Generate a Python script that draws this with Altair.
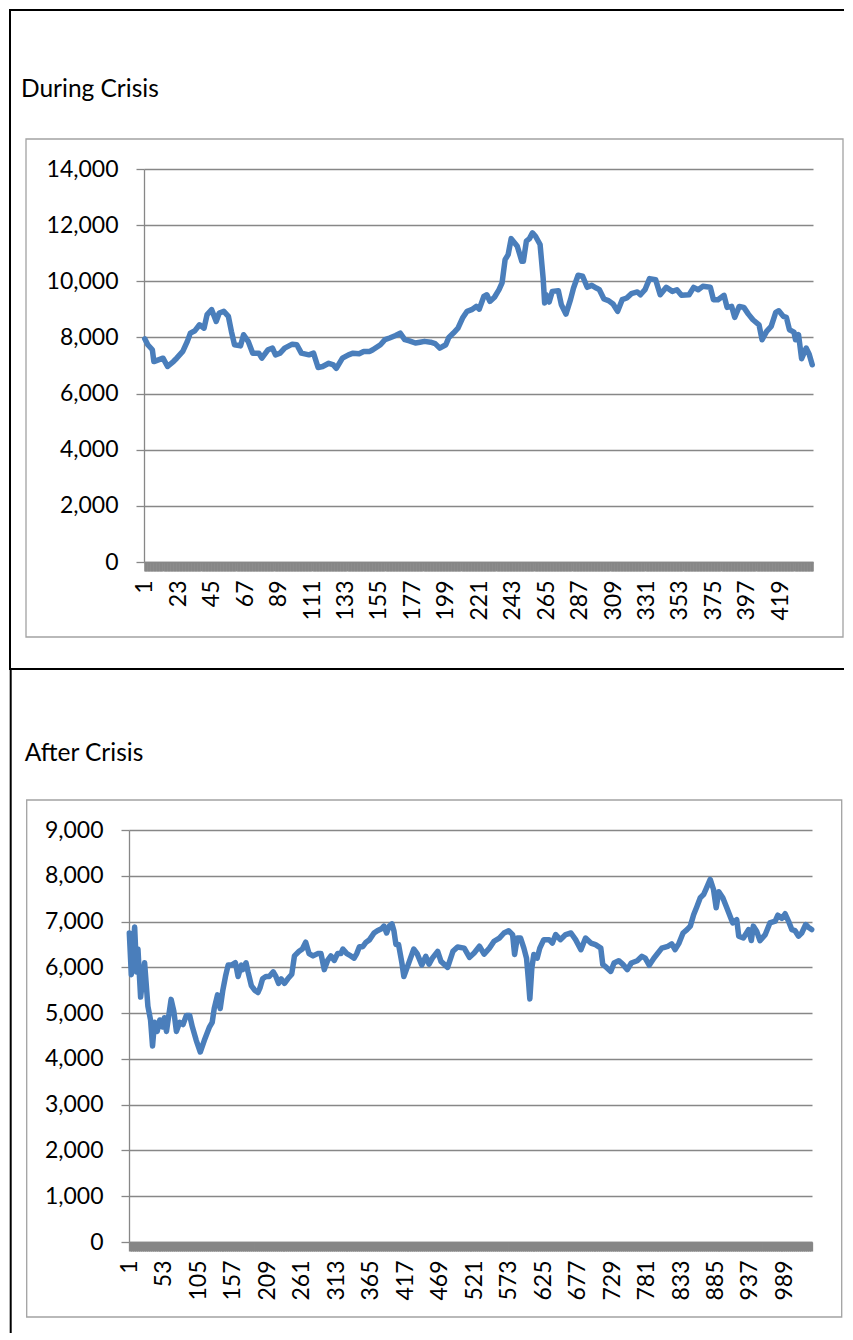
import altair as alt
import pandas as pd

# ---------------- data ----------------
DURING_N = 440
during_idx = [1, 3, 6, 7, 10, 13, 16, 20, 22, 26, 29, 31, 34, 37, 40, 42, 45, 48, 50, 53,
              56, 58, 60, 64, 66, 69, 72, 76, 78, 82, 85, 87, 90, 93, 98, 101, 104, 109, 112, 115,
              118, 122, 125, 127, 131, 135, 138, 142, 145, 149, 151, 156, 159, 162, 166, 169, 172, 175, 179, 182,
              185, 189, 192, 195, 199, 201, 204, 207, 210, 213, 216, 219, 221, 224, 226, 228, 231, 234, 236, 238,
              240, 242, 246, 249, 250, 252, 254, 256, 258, 261, 263, 264, 265, 267, 269, 273, 275, 278, 281, 283,
              286, 289, 292, 295, 298, 300, 303, 306, 309, 312, 315, 318, 321, 325, 327, 330, 333, 337, 340, 344,
              348, 351, 354, 359, 362, 365, 368, 373, 375, 378, 382, 384, 387, 389, 392, 395, 398, 401, 405, 407,
              410, 413, 416, 418, 421, 423, 425, 428, 429, 431, 433, 436, 438, 440]
during_val = [7950, 7740, 7560, 7140, 7200, 7260, 6965, 7150, 7260, 7500, 7860, 8155, 8240, 8450, 8330, 8810, 8990, 8570, 8870, 8930,
              8750, 8210, 7740, 7700, 8095, 7860, 7440, 7440, 7260, 7560, 7620, 7380, 7440, 7620, 7760, 7740, 7440, 7380, 7440, 6930,
              6965, 7080, 7020, 6900, 7260, 7380, 7440, 7420, 7500, 7500, 7560, 7740, 7920, 7980, 8070, 8155, 7920, 7880, 7800, 7830,
              7860, 7830, 7780, 7620, 7740, 8000, 8155, 8330, 8690, 8930, 8990, 9105, 9010, 9460, 9520, 9285, 9430, 9700, 9940, 10770,
              10950, 11520, 11250, 10710, 10710, 11430, 11520, 11725, 11605, 11310, 10120, 9225, 9520, 9260, 9640, 9665, 9165, 8830, 9345, 9760,
              10215, 10180, 9785, 9855, 9760, 9700, 9370, 9310, 9190, 8930, 9345, 9405, 9560, 9620, 9520, 9700, 10095, 10060, 9520, 9785,
              9640, 9700, 9500, 9520, 9785, 9700, 9820, 9785, 9345, 9345, 9500, 9070, 9105, 8715, 9105, 9070, 8830, 8630, 8450, 7915,
              8215, 8395, 8890, 8950, 8750, 8715, 8275, 8190, 7915, 8095, 7240, 7620, 7405, 7025]
during_labels = [1, 23, 45, 67, 89, 111, 133, 155, 177, 199, 221, 243, 265, 287, 309, 331, 353, 375, 397, 419]
during_yticks = [0, 2000, 4000, 6000, 8000, 10000, 12000, 14000]

AFTER_N = 1030
after_idx = [1, 4, 9, 12, 14, 18, 24, 29, 33, 36, 39, 43, 47, 51, 54, 57, 61, 64, 68, 72,
             77, 82, 87, 92, 96, 102, 108, 114, 122, 126, 129, 134, 138, 142, 146, 150, 155, 161, 165, 170,
             172, 177, 180, 185, 190, 195, 198, 202, 207, 212, 218, 222, 226, 230, 235, 240, 246, 250, 257, 262,
             267, 272, 278, 285, 290, 295, 300, 305, 310, 315, 320, 323, 329, 335, 340, 344, 348, 353, 358, 363,
             370, 375, 382, 385, 389, 393, 397, 400, 403, 407, 412, 415, 420, 425, 430, 435, 442, 448, 453, 458,
             466, 471, 481, 489, 496, 506, 514, 521, 529, 536, 544, 551, 559, 566, 573, 579, 582, 586, 591, 596,
             600, 603, 605, 608, 611, 616, 620, 626, 634, 639, 644, 651, 659, 667, 674, 682, 689, 697, 704, 712,
             715, 719, 727, 732, 739, 745, 752, 758, 767, 774, 779, 785, 792, 797, 804, 813, 819, 824, 830, 836,
             842, 847, 852, 857, 862, 867, 871, 877, 882, 886, 890, 896, 902, 907, 911, 917, 920, 927, 935, 939,
             942, 947, 952, 960, 967, 975, 979, 985, 990, 995, 1000, 1005, 1010, 1015, 1021, 1025, 1030]
after_val = [6750, 5840, 6880, 5900, 6400, 5350, 6100, 5150, 4850, 4280, 4800, 4600, 4850, 4700, 4900, 4600, 5000, 5300, 5050, 4600,
             4800, 4750, 4950, 4950, 4700, 4400, 4150, 4400, 4700, 4800, 5100, 5400, 5100, 5500, 5800, 6050, 6050, 6100, 5800, 6050,
             5950, 6100, 5900, 5600, 5500, 5450, 5550, 5750, 5800, 5800, 5900, 5800, 5650, 5750, 5650, 5750, 5850, 6250, 6350, 6400,
             6550, 6300, 6250, 6300, 6300, 5950, 6150, 6250, 6150, 6300, 6300, 6400, 6300, 6250, 6200, 6300, 6450, 6450, 6550, 6600,
             6750, 6800, 6850, 6900, 6750, 6900, 6950, 6800, 6500, 6500, 6100, 5800, 6000, 6200, 6400, 6300, 6050, 6240, 6070, 6200,
             6350, 6130, 6000, 6350, 6445, 6420, 6220, 6315, 6460, 6290, 6420, 6570, 6640, 6750, 6800, 6715, 6280, 6640, 6640, 6420,
             6200, 5690, 5310, 5985, 6280, 6200, 6420, 6605, 6605, 6530, 6715, 6605, 6715, 6750, 6605, 6385, 6640, 6530, 6495, 6420,
             6060, 6020, 5910, 6095, 6145, 6070, 5950, 6095, 6145, 6240, 6200, 6045, 6200, 6290, 6420, 6460, 6510, 6385, 6530, 6750,
             6825, 6900, 7150, 7330, 7520, 7590, 7720, 7920, 7700, 7300, 7650, 7520, 7300, 7115, 6970, 7040, 6680, 6640, 6825, 6585,
             6900, 6790, 6585, 6715, 6970, 7010, 7140, 7070, 7170, 7010, 6825, 6800, 6680, 6750, 6935, 6875, 6825]
after_labels = [1, 53, 105, 157, 209, 261, 313, 365, 417, 469, 521, 573, 625, 677, 729, 781, 833, 885, 937, 989]
after_yticks = [0, 1000, 2000, 3000, 4000, 5000, 6000, 7000, 8000, 9000]

# ---------------- style ----------------
FONT = "Lato"
GRAY = "#878787"
BOX = "#a2a2a2"
BLUE = "#4a7ebb"
FS = 23
TITLE_FS = 24.5

one = pd.DataFrame({"d": [0]})


def panel(idx, vals, n, yticks, labels, width, height, tick_w, deco):
    df = pd.DataFrame({"c": idx, "v": vals})
    lab_expr = "indexof([" + ",".join(str(v) for v in labels) + "], datum.value) >= 0 ? datum.label : ''"
    line = alt.Chart(df).mark_line(
        color=BLUE, strokeWidth=5.5, strokeJoin="round", strokeCap="round"
    ).encode(
        x=alt.X("c:Q", scale=alt.Scale(domain=[0.5, n + 0.5], nice=False, zero=False),
                axis=alt.Axis(values=list(range(1, n + 1)), labelExpr=lab_expr, format="d",
                              labelAngle=270, labelOverlap=False, labelFlush=False,
                              tickSize=9, tickWidth=tick_w, tickColor=GRAY,
                              domainColor=GRAY, domainWidth=1.3,
                              labelPadding=9, labelFont=FONT, labelFontSize=FS,
                              labelColor="black", grid=False, title=None)),
        y=alt.Y("v:Q", scale=alt.Scale(domain=[0, yticks[-1]], nice=False),
                axis=alt.Axis(values=yticks, format=",d", grid=True, gridColor=GRAY,
                              gridWidth=1.3, tickSize=8, tickColor=GRAY, tickWidth=1.3,
                              domainColor=GRAY, domainWidth=1.3, labelPadding=18,
                              labelFont=FONT, labelFontSize=FS, labelColor="black",
                              title=None)),
    )
    return alt.layer(*deco, line).properties(width=width, height=height)


def bar(x, x2, y, y2):
    # solid black table border line, drawn as a thin filled rect
    return alt.Chart(one).mark_rect(color="black").encode(
        x=alt.value(x), x2=alt.value(x2), y=alt.value(y), y2=alt.value(y2))


def box(x, x2, y, y2):
    return alt.Chart(one).mark_rect(fill="white", fillOpacity=0, stroke=BOX, strokeWidth=1.3).encode(
        x=alt.value(x), x2=alt.value(x2), y=alt.value(y), y2=alt.value(y2))


def title(text, x, y):
    return alt.Chart(one).mark_text(text=text, align="left", baseline="alphabetic",
                                    font=FONT, fontSize=TITLE_FS, color="black").encode(
        x=alt.value(x), y=alt.value(y))


# top panel: plot area 669 x 393 at page (144, 168)
deco1 = [
    bar(-135, 700, -160, -158),       # top border
    bar(-135, -133, -160, 501),       # left border
    bar(-135, 700, 499, 501),         # separator
    box(-118, 699, -30, 468),
    title("During Crisis", -123, -72),
]
top = panel(during_idx, during_val, DURING_N, during_yticks, during_labels, 669, 393, 2.6, deco1)

# bottom panel: plot area 683 x 412 at page (129.3, 829)
deco2 = [
    bar(-119.3, -117.3, -161, 503),   # left border
    box(-102.3, 712.7, -30, 487),
    title("After Crisis", -104.3, -69),
]
bottom = panel(after_idx, after_val, AFTER_N, after_yticks, after_labels, 683, 412, 1.3, deco2)

spacer = alt.Chart(one).mark_point(opacity=0, size=1).encode(
    x=alt.value(1), y=alt.value(1)).properties(width=14.7, height=393)

row1 = alt.hconcat(spacer, top, spacing=0, bounds="flush")
chart = alt.vconcat(row1, bottom, spacing=661, bounds="flush").properties(
    padding=0
).configure_view(stroke="transparent")

chart.save("out.html", embed_options={"renderer": "svg", "actions": False})
